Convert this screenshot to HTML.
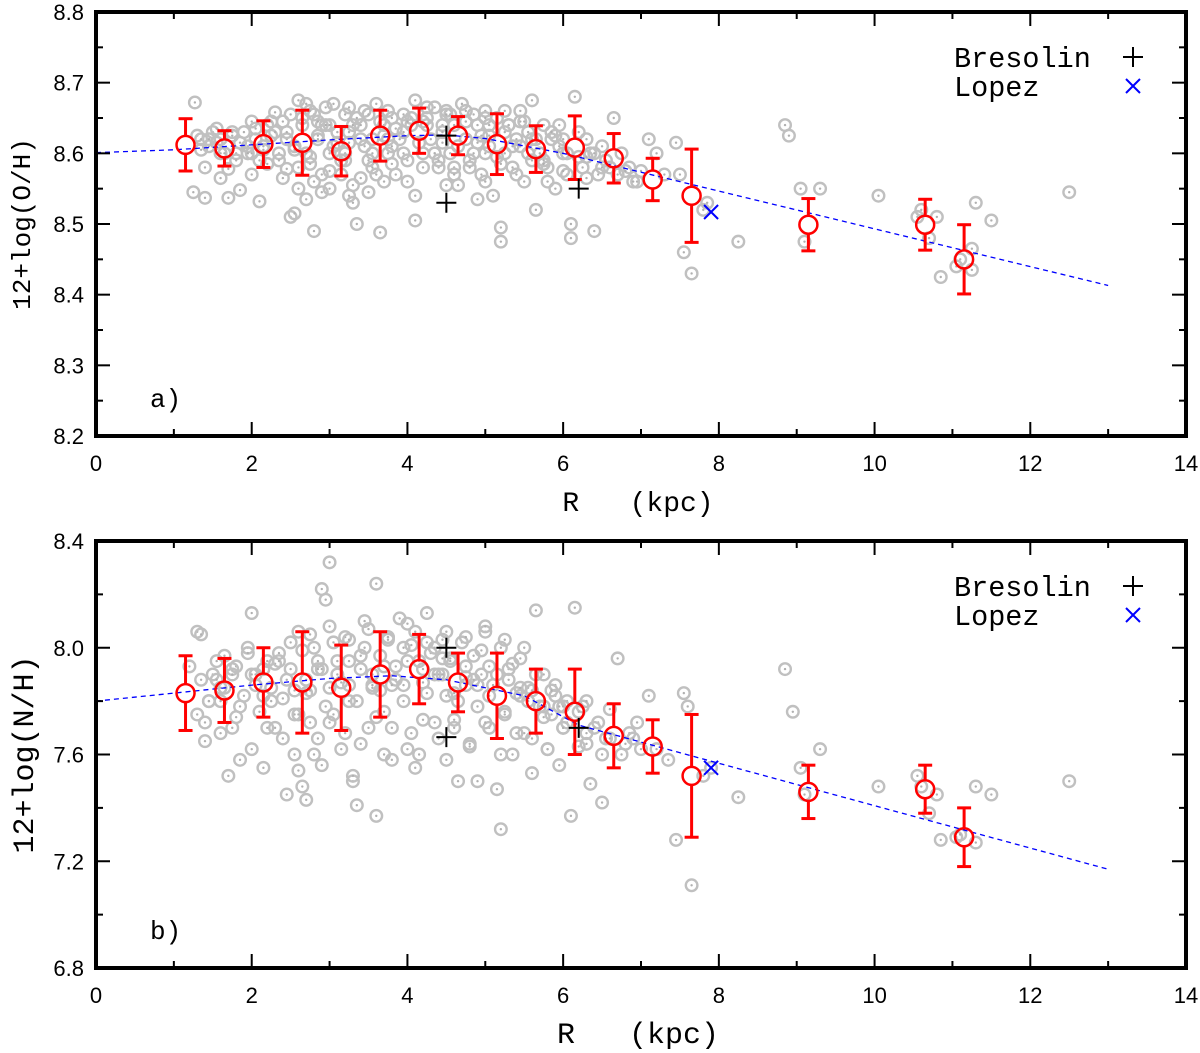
<!DOCTYPE html>
<html><head><meta charset="utf-8"><style>
html,body{margin:0;padding:0;background:#fff}
svg{display:block}
</style></head><body>
<svg id="chart" width="1200" height="1053" viewBox="0 0 1200 1053" xmlns="http://www.w3.org/2000/svg"></svg>
<script>
// ---------- data ----------
const topScatterR=[1.27,1.3,1.25,1.4,1.35,1.5,1.45,1.6,1.7,1.7,1.8,1.85,1.9,1.95,2.0,2.05,2.1,2.1,2.2,2.25,2.3,2.35,2.4,2.45,2.45,2.5,2.55,2.6,2.6,2.65,2.7,2.7,2.75,2.8,2.8,2.85,2.9,2.9,2.95,3.0,3.0,3.05,3.1,3.15,3.2,3.2,3.25,3.3,3.3,3.35,3.4,3.45,3.5,3.5,3.55,3.6,3.65,3.7,3.75,3.8,3.85,3.9,3.95,4.0,4.05,4.1,4.1,4.2,4.25,4.3,4.35,4.4,4.45,4.5,4.55,4.6,4.65,4.7,4.75,4.8,4.85,4.9,4.95,5.0,5.0,5.05,5.1,5.15,5.2,5.2,5.25,5.3,5.35,5.4,5.45,5.5,5.55,5.6,5.65,5.7,5.75,5.8,5.85,5.9,5.95,6.0,6.05,6.1,6.1,6.15,6.2,6.25,6.3,6.35,6.4,6.45,6.5,6.55,6.65,6.7,6.75,6.85,6.95,7.1,7.2,7.3,7.45,7.5,7.55,7.65,7.8,7.85,8.25,8.85,8.9,9.05,9.1,9.3,10.05,10.55,10.6,10.7,10.8,10.85,11.05,11.1,11.25,11.25,11.3,11.5,12.5,
1.55,1.75,2.0,2.3,2.55,2.85,3.1,3.4,3.7,3.95,4.2,4.45,4.75,5.05,5.3,5.6,5.9,6.3,1.6,2.15,2.7,3.25,3.8,4.35,4.9,5.45,6.0,3.55,4.6,5.75];
const topScatterOH=[8.672,8.625,8.545,8.537,8.62,8.63,8.61,8.62,8.578,8.537,8.6,8.548,8.63,8.61,8.645,8.62,8.59,8.532,8.64,8.625,8.658,8.6,8.645,8.578,8.62,8.51,8.515,8.55,8.675,8.64,8.67,8.535,8.595,8.655,8.49,8.62,8.57,8.64,8.665,8.6,8.55,8.67,8.63,8.57,8.655,8.6,8.54,8.64,8.555,8.5,8.62,8.66,8.59,8.545,8.62,8.67,8.488,8.64,8.6,8.65,8.57,8.62,8.655,8.59,8.64,8.675,8.505,8.6,8.65,8.62,8.665,8.58,8.64,8.66,8.6,8.64,8.555,8.67,8.62,8.59,8.655,8.64,8.57,8.6,8.66,8.625,8.54,8.65,8.495,8.475,8.6,8.64,8.58,8.62,8.66,8.56,8.63,8.675,8.52,8.6,8.64,8.58,8.62,8.55,8.64,8.6,8.57,8.5,8.48,8.68,8.63,8.58,8.62,8.6,8.49,8.57,8.61,8.59,8.65,8.57,8.6,8.58,8.56,8.62,8.6,8.57,8.615,8.57,8.46,8.43,8.52,8.53,8.475,8.64,8.625,8.55,8.475,8.55,8.54,8.51,8.52,8.48,8.51,8.425,8.44,8.45,8.465,8.435,8.53,8.505,8.545,
8.615,8.63,8.6,8.63,8.61,8.645,8.615,8.64,8.625,8.63,8.645,8.615,8.645,8.61,8.64,8.62,8.625,8.595,8.6,8.605,8.6,8.615,8.61,8.6,8.615,8.61,8.62,8.58,8.58,8.59];
const extraR=[1.35,1.45,1.55,1.65,1.75,1.85,1.95,2.05,2.15,2.25,2.35,2.45,2.55,2.65,2.75,2.85,2.95,3.05,3.15,3.25,3.35,3.45,3.55,3.65,3.75,3.85,3.95,4.05,4.15,4.25,4.35,4.45,4.55,4.65,4.75,4.85,4.95,5.05,5.15,5.25,5.35,5.45,5.55,5.65,5.75,5.85,5.95,6.05,6.2,6.4,6.6,6.8,
1.4,1.6,1.8,2.0,2.2,2.4,2.6,2.8,3.0,3.2,3.4,3.6,3.8,4.0,4.2,4.4,4.6,4.8,5.0,5.2,5.4,5.6,5.8,6.0,6.3,6.5,6.9,7.0,
2.5,2.75,3.0,3.25,3.5,3.75,4.0,4.25,4.5,4.75,5.0,5.25,5.5,2.9,3.3,3.7,4.1,4.5,4.9];
const extraOH=[8.605,8.62,8.635,8.6,8.625,8.615,8.6,8.635,8.61,8.645,8.59,8.63,8.605,8.65,8.585,8.625,8.64,8.61,8.59,8.63,8.65,8.61,8.6,8.645,8.62,8.635,8.6,8.65,8.615,8.64,8.6,8.63,8.655,8.61,8.645,8.6,8.625,8.64,8.595,8.63,8.61,8.645,8.6,8.62,8.585,8.63,8.61,8.6,8.595,8.6,8.58,8.575,
8.58,8.565,8.59,8.57,8.585,8.565,8.58,8.56,8.575,8.59,8.565,8.57,8.585,8.56,8.58,8.59,8.57,8.58,8.56,8.585,8.57,8.59,8.56,8.575,8.565,8.58,8.56,8.575,
8.655,8.66,8.64,8.665,8.655,8.66,8.645,8.665,8.655,8.66,8.65,8.66,8.645,8.545,8.53,8.56,8.54,8.555,8.535];
const extraNH=[7.88,7.8,7.95,7.85,7.9,7.78,7.98,7.86,7.92,7.8,7.95,7.88,7.75,7.99,7.84,7.92,7.78,8.02,7.87,7.95,7.8,8.0,7.9,7.84,8.04,7.93,7.86,8.01,7.95,7.83,8.0,7.9,7.96,7.8,7.93,7.88,7.99,7.82,7.9,7.76,7.94,7.85,7.8,7.9,7.74,7.84,7.78,7.72,7.76,7.7,7.66,7.64,
7.72,7.68,7.74,7.62,7.7,7.66,7.75,7.6,7.72,7.68,7.64,7.74,7.7,7.62,7.73,7.66,7.7,7.64,7.72,7.6,7.68,7.66,7.62,7.7,7.64,7.6,7.66,7.62,
8.02,8.05,8.08,8.03,8.07,8.04,8.09,8.02,8.06,8.04,8.08,8.03,8.0,7.56,7.52,7.6,7.55,7.58,7.5];
const botScatterR=[1.2,1.3,1.35,1.3,1.4,1.45,1.5,1.6,1.65,1.7,1.75,1.8,1.85,1.9,1.95,2.0,2.05,2.1,2.15,2.2,2.25,2.3,2.35,2.4,2.45,2.5,2.55,2.6,2.6,2.65,2.7,2.7,2.75,2.8,2.85,2.9,2.9,2.95,3.0,3.0,3.05,3.1,3.15,3.2,3.25,3.3,3.35,3.4,3.45,3.5,3.55,3.6,3.6,3.65,3.7,3.75,3.8,3.85,3.9,3.95,4.0,4.05,4.1,4.15,4.2,4.25,4.3,4.35,4.4,4.45,4.5,4.55,4.6,4.65,4.7,4.75,4.8,4.85,4.9,4.95,5.0,5.05,5.1,5.15,5.2,5.2,5.25,5.3,5.35,5.4,5.45,5.5,5.55,5.6,5.65,5.7,5.75,5.8,5.85,5.9,5.95,6.0,6.05,6.1,6.15,6.2,6.25,6.3,6.35,6.45,6.5,6.55,6.6,6.7,6.75,6.85,6.95,7.1,7.2,7.35,7.45,7.55,7.6,7.65,7.8,7.9,8.25,8.85,8.95,9.05,9.1,9.3,10.05,10.55,10.6,10.7,10.8,10.85,11.05,11.1,11.3,11.3,11.5,12.5,
1.55,1.75,2.0,2.3,2.55,2.85,3.1,3.4,3.7,3.95,4.2,4.45,4.75,5.05,5.3,5.6,5.9,6.3,1.6,2.15,2.7,3.25,3.8,4.35,4.9,5.45,6.0,3.55,4.6,5.75];
const botScatterNH=[7.93,8.06,8.05,7.75,7.65,7.8,7.9,7.85,7.97,7.52,7.7,7.93,7.58,7.82,8.0,8.13,7.9,7.76,7.55,7.95,7.85,7.7,7.98,7.81,7.45,7.92,7.6,7.54,8.06,7.48,7.43,7.88,7.72,8.0,7.66,8.22,7.92,8.18,7.85,8.32,7.75,7.95,7.62,8.04,7.8,7.5,7.41,7.92,8.1,7.7,7.86,7.37,8.24,7.97,7.76,8.03,7.58,7.88,8.11,7.8,7.95,7.68,8.06,7.6,7.87,8.13,7.98,7.72,7.9,8.03,7.82,7.95,7.73,7.5,8.02,7.86,7.63,7.97,7.78,7.9,8.06,7.7,7.86,7.47,7.32,8.0,7.75,7.92,7.6,7.83,7.96,7.68,7.85,7.53,8.14,7.78,7.9,7.62,7.75,7.86,7.56,7.7,7.8,7.37,8.15,7.63,7.78,7.68,7.49,7.72,7.42,7.66,7.77,7.96,7.6,7.68,7.72,7.82,7.62,7.58,7.28,7.83,7.78,7.11,7.52,7.55,7.44,7.92,7.76,7.55,7.45,7.62,7.48,7.52,7.48,7.38,7.45,7.28,7.29,7.3,7.48,7.27,7.45,7.5,
7.88,7.92,7.9,7.94,7.84,7.95,7.9,7.97,7.93,8.0,7.92,7.96,7.89,7.93,7.88,7.84,7.82,7.8,7.8,7.82,7.83,7.86,7.86,7.9,7.86,7.82,7.78,7.85,7.83,7.78];
const binR=[1.15,1.65,2.15,2.65,3.15,3.65,4.15,4.65,5.15,5.65,6.15,6.65,7.15,7.65,9.15,10.65,11.15];
const binOH=[8.612,8.607,8.613,8.615,8.603,8.625,8.632,8.625,8.613,8.606,8.608,8.593,8.563,8.540,8.499,8.499,8.450];
const binOHerr=[0.037,0.025,0.033,0.046,0.035,0.036,0.032,0.027,0.043,0.033,0.045,0.035,0.030,0.066,0.037,0.036,0.049];
const binNH=[7.83,7.84,7.87,7.87,7.85,7.90,7.92,7.87,7.82,7.80,7.76,7.67,7.63,7.52,7.46,7.47,7.29];
const binNHerr=[0.14,0.12,0.13,0.19,0.16,0.16,0.13,0.11,0.16,0.12,0.16,0.12,0.10,0.23,0.10,0.09,0.11];
const fitR=[0,1,2,3,4,4.5,5,6,13];
const fitOH=[8.601,8.605,8.612,8.619,8.625,8.626,8.621,8.600,8.413];
const fitRN=[0,1,2,3,3.8,4.5,5.5,6.2,13];
const fitNH=[7.80,7.83,7.86,7.885,7.895,7.88,7.82,7.71,7.17];
const bresR=[4.5,4.5,6.2];
const bresOH=[8.625,8.530,8.550];
const bresNH=[8.0,7.665,7.70];
const lopezR=[7.9];
const lopezOH=[8.517];
const lopezNH=[7.55];
const xTicks=[0,2,4,6,8,10,12,14];
const yTicksTop=["8.2","8.3","8.4","8.5","8.6","8.7","8.8"];
const yTicksBot=["6.8","7.2","7.6","8.0","8.4"];

// ---------- drawing ----------
const NS="http://www.w3.org/2000/svg";
const svg=document.getElementById('chart');
function mk(tag,attrs,parent){const e=document.createElementNS(NS,tag);for(const k in attrs)e.setAttribute(k,attrs[k]);(parent||svg).appendChild(e);return e;}

function panel(cfg){
  const g=mk('g',{});
  
  
  const X0=96,X1=1186,Y0=cfg.y0,Y1=cfg.y1;
  const xs=v=>X0+(v-0)/(14-0)*(X1-X0);
  const ys=v=>Y1-(v-cfg.ymin)/(cfg.ymax-cfg.ymin)*(Y1-Y0);
  const sg=mk('g',{},g);
  
  
  for(let i=0;i<cfg.sr.length;i++){
    const c=mk('circle',{cx:xs(cfg.sr[i]),cy:ys(cfg.sv[i]),r:5.8,fill:'none',stroke:'#c0c0c0','stroke-width':2.4},sg);
    
    
    mk('circle',{cx:xs(cfg.sr[i]),cy:ys(cfg.sv[i]),r:1.2,fill:'#b0b0b0'},sg);
  }
  const fl=mk('polyline',{points:cfg.fr.map((r,i)=>xs(r)+','+ys(cfg.fv[i])).join(' '),fill:'none',stroke:'#0000ff','stroke-width':1.3,'stroke-dasharray':'5,4'},g);
  
  
  for(let i=0;i<binR.length;i++){
    const x=xs(binR[i]),y=ys(cfg.bv[i]),yt=ys(cfg.bv[i]+cfg.be[i]),yb=ys(cfg.bv[i]-cfg.be[i]);
    const bg=mk('g',{stroke:'#ff0000','stroke-width':3,fill:'none'},g);
    
    
    mk('line',{x1:x,y1:yt,x2:x,y2:y-9},bg);
    mk('line',{x1:x,y1:y+9,x2:x,y2:yb},bg);
    mk('line',{x1:x-7,y1:yt,x2:x+7,y2:yt},bg);
    mk('line',{x1:x-7,y1:yb,x2:x+7,y2:yb},bg);
    mk('circle',{cx:x,cy:y,r:9,'stroke-width':2.5},bg);
  }
  for(let i=0;i<bresR.length;i++){
    const x=xs(bresR[i]),y=ys(cfg.bres[i]);
    const p=mk('path',{d:`M${x-10},${y}H${x+10}M${x},${y-10}V${y+10}`,stroke:'#000','stroke-width':2},g);
    
    
  }
  for(let i=0;i<lopezR.length;i++){
    const x=xs(lopezR[i]),y=ys(cfg.lop[i]);
    const p=mk('path',{d:`M${x-7},${y-7}L${x+7},${y+7}M${x-7},${y+7}L${x+7},${y-7}`,stroke:'#0000ff','stroke-width':2},g);
    
    
  }
  const fr=mk('rect',{x:X0,y:Y0,width:X1-X0,height:Y1-Y0,fill:'none',stroke:'#000','stroke-width':4},g);
  
  
  for(let v=0;v<=14;v+=1){
    const x=xs(v),L=(v%2===0)?14:7;
    mk('line',{x1:x,y1:Y1,x2:x,y2:Y1-L,stroke:'#000','stroke-width':2},g);
    mk('line',{x1:x,y1:Y0,x2:x,y2:Y0+L,stroke:'#000','stroke-width':2},g);
  }
  xTicks.forEach(v=>{
    const t=mk('text',{x:xs(v),y:Y1+35,'text-anchor':'middle','font-family':'Liberation Sans, sans-serif','font-size':22},g);
    t.textContent=String(v);
    
    
  });
  const nMin=Math.round((cfg.ymax-cfg.ymin)/cfg.minor);
  for(let k=0;k<=nMin;k++){
    const v=cfg.ymin+k*cfg.minor,y=ys(v),L=(k%2===0)?14:7;
    mk('line',{x1:X0,y1:y,x2:X0+L,y2:y,stroke:'#000','stroke-width':2},g);
    mk('line',{x1:X1,y1:y,x2:X1-L,y2:y,stroke:'#000','stroke-width':2},g);
  }
  cfg.yt.forEach(s=>{
    const t=mk('text',{x:84,y:ys(parseFloat(s))+8,'text-anchor':'end','font-family':'Liberation Sans, sans-serif','font-size':22},g);
    t.textContent=s;
    
    
  });
  const xt=mk('text',{x:638,y:Y1+75,'text-anchor':'middle','font-family':'Liberation Mono, monospace','font-size':cfg.xfs},g);
  xt.textContent='R   (kpc)';
  xt.style.whiteSpace='pre';
  
  
  const cy=(Y0+Y1)/2;
  const yt=mk('text',{x:0,y:0,transform:`translate(${cfg.ytx},${cy}) rotate(-90)`,'text-anchor':'middle','font-family':'Liberation Mono, monospace','font-size':cfg.yfs},g);
  yt.textContent=cfg.ytitle;
  
  
  const pl=mk('text',{x:150,y:Y1-29,'font-family':'Liberation Mono, monospace','font-size':26},g);
  pl.textContent=cfg.label;
  
  
  const lg=mk('g',{},g);
  
  
  const l1=mk('text',{x:954,y:Y0+55,'font-family':'Liberation Mono, monospace','font-size':28.5},lg);
  l1.textContent='Bresolin';
  
  
  mk('path',{d:`M1123,${Y0+45}H1143M1133,${Y0+35}V${Y0+55}`,stroke:'#000','stroke-width':2},lg);
  const l2=mk('text',{x:954,y:Y0+84,'font-family':'Liberation Mono, monospace','font-size':28.5},lg);
  l2.textContent='Lopez';
  
  
  mk('path',{d:`M1126,${Y0+67}L1140,${Y0+81}M1126,${Y0+81}L1140,${Y0+67}`,stroke:'#0000ff','stroke-width':2},lg);
}

panel({name:'oh-panel',y0:12,y1:436,ymin:8.2,ymax:8.8,minor:0.05,yt:yTicksTop,sr:topScatterR.concat(extraR),sv:topScatterOH.concat(extraOH),fr:fitR,fv:fitOH,bv:binOH,be:binOHerr,bres:bresOH,lop:lopezOH,ytitle:'12+log(O/H)',ytx:30,yfs:26,xfs:28,label:'a)'});
panel({name:'nh-panel',y0:541,y1:968,ymin:6.8,ymax:8.4,minor:0.2,yt:yTicksBot,sr:botScatterR.concat(extraR),sv:botScatterNH.concat(extraNH),fr:fitRN,fv:fitNH,bv:binNH,be:binNHerr,bres:bresNH,lop:lopezNH,ytitle:'12+log(N/H)',ytx:33,yfs:30,xfs:30,label:'b)'});
</script>
</body></html>
